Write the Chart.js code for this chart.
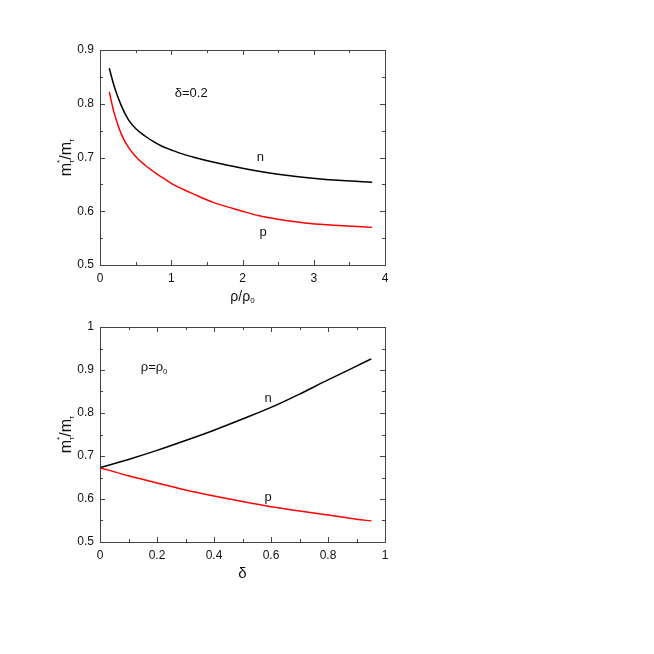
<!DOCTYPE html>
<html>
<head>
<meta charset="utf-8">
<script src="https://cdn.jsdelivr.net/npm/chart.js@4/dist/chart.umd.min.js"></script>
<style>
  html, body { margin: 0; padding: 0; background: #fff; }
  #wrap { position: relative; width: 654px; height: 654px; }
  canvas { position: absolute; left: 0; }
  #c1 { top: 0; }
  #c2 { top: 277px; }
</style>
</head>
<body>
<div id="wrap">
  <canvas id="c1" width="654" height="315"></canvas>
  <canvas id="c2" width="654" height="315"></canvas>
</div>
<script>
// panel atas: m*/m vs rho/rho0, delta = 0.2
const rhoX = [0.13, 0.2, 0.3, 0.4, 0.5, 0.63, 0.77, 0.87, 1.0, 1.1, 1.33, 1.6, 2.0, 2.25, 2.5, 2.95, 3.4, 3.82];
const rhoN = [0.866, 0.832, 0.796, 0.770, 0.754, 0.740, 0.728, 0.721, 0.714, 0.709, 0.700, 0.691, 0.680, 0.674, 0.669, 0.662, 0.657, 0.654];
const rhoP = [0.822, 0.782, 0.743, 0.719, 0.702, 0.686, 0.672, 0.663, 0.652, 0.645, 0.631, 0.616, 0.600, 0.591, 0.585, 0.577, 0.573, 0.570];

// panel bawah: m*/m vs delta, rho = rho0
const deltaX = [0, 0.1, 0.2, 0.3, 0.4, 0.5, 0.6, 0.7, 0.8, 0.9, 0.952];
const deltaN = [0.673, 0.692, 0.713, 0.736, 0.760, 0.786, 0.813, 0.844, 0.877, 0.909, 0.926];
const deltaP = [0.673, 0.654, 0.637, 0.621, 0.607, 0.594, 0.582, 0.572, 0.563, 0.553, 0.549];

const FONT = "'Liberation Sans', Arial, sans-serif";

function pts(xs, ys) {
    return xs.map((x, i) => ({ x: x, y: ys[i] }));
}

// teks dengan subskrip kecil di belakangnya
function teksSub(ctx, main, sub, cx, cy, size) {
    ctx.font = size + 'px ' + FONT;
    const w1 = ctx.measureText(main).width;
    ctx.font = '8px ' + FONT;
    const w2 = ctx.measureText(sub).width;
    const x0 = cx - (w1 + w2) / 2;
    ctx.textAlign = 'left';
    ctx.font = size + 'px ' + FONT;
    ctx.fillText(main, x0, cy);
    ctx.font = '8px ' + FONT;
    ctx.fillText(sub, x0 + w1, cy + 4);
    ctx.textAlign = 'center';
}

// bingkai, tick ke dalam, judul sumbu dan label
const framePlugin = {
    id: 'frame',
    afterDraw(chart, args, opts) {
        const ctx = chart.ctx;
        const a = chart.chartArea;
        const xs = chart.scales.x, ys = chart.scales.y;
        ctx.save();
        ctx.strokeStyle = '#444';
        ctx.lineWidth = 1;
        ctx.strokeRect(a.left + 0.5, a.top + 0.5, a.right - a.left, a.bottom - a.top);

        ctx.beginPath();
        const xStep = opts.xStep / 2;
        const nx = Math.round((xs.max - xs.min) / xStep);
        for (let i = 1; i < nx; i++) {
            const px = Math.round(xs.getPixelForValue(xs.min + i * xStep)) + 0.5;
            const len = i % 2 === 0 ? 5 : 3;
            ctx.moveTo(px, a.bottom); ctx.lineTo(px, a.bottom - len);
            ctx.moveTo(px, a.top); ctx.lineTo(px, a.top + len);
        }
        const yStep = opts.yStep / 2;
        const ny = Math.round((ys.max - ys.min) / yStep);
        for (let i = 1; i < ny; i++) {
            const py = Math.round(ys.getPixelForValue(ys.min + i * yStep)) + 0.5;
            const len = i % 2 === 0 ? 5 : 3;
            ctx.moveTo(a.left, py); ctx.lineTo(a.left + len, py);
            ctx.moveTo(a.right, py); ctx.lineTo(a.right - len, py);
        }
        ctx.stroke();

        ctx.fillStyle = '#111';
        ctx.textAlign = 'center';
        ctx.textBaseline = 'middle';

        // judul sumbu y: m*_tau / m_tau
        const cy = (a.top + a.bottom) / 2;
        ctx.save();
        ctx.translate(a.left - 33, cy);
        ctx.rotate(-Math.PI / 2);
        ctx.textAlign = 'left';
        const big = '16px ' + FONT, small = '8px ' + FONT;
        const parts = [
            ['m', big, 0], ['*', small, -7], ['τ', small, 5], ['/m', big, 0], ['τ', small, 5]
        ];
        let w = 0;
        parts.forEach(p => { if (p[0] !== '*') { ctx.font = p[1]; w += ctx.measureText(p[0]).width; } });
        let x = -w / 2;
        parts.forEach(p => {
            ctx.font = p[1];
            ctx.fillText(p[0], x, p[2]);
            if (p[0] !== '*') x += ctx.measureText(p[0]).width;
        });
        ctx.restore();

        // judul sumbu x
        const cx = (a.left + a.right) / 2;
        if (opts.xTitleSub) {
            teksSub(ctx, opts.xTitle, opts.xTitleSub, cx, a.bottom + 32, 14);
        } else {
            ctx.font = '15px ' + FONT;
            ctx.fillText(opts.xTitle, cx, a.bottom + 32);
        }

        // label di dalam plot
        ctx.textAlign = 'center';
        (opts.notes || []).forEach(n => {
            const px = xs.getPixelForValue(n.x), py = ys.getPixelForValue(n.y);
            if (n.sub) {
                teksSub(ctx, n.text, n.sub, px, py, 13);
            } else {
                ctx.font = '13px ' + FONT;
                ctx.fillText(n.text, px, py);
            }
        });
        ctx.restore();
    }
};

function buatPanel(id, xs, nVals, pVals, xMin, xMax, xStep, yMin, yMax, xFmt, frameOpts) {
    const ctx = document.getElementById(id).getContext('2d');
    return new Chart(ctx, {
        type: 'line',
        data: {
            datasets: [
                { label: 'n', data: pts(xs, nVals), borderColor: '#000', borderWidth: 1.5, pointRadius: 0, cubicInterpolationMode: 'monotone', fill: false },
                { label: 'p', data: pts(xs, pVals), borderColor: '#ff0000', borderWidth: 1.5, pointRadius: 0, cubicInterpolationMode: 'monotone', fill: false }
            ]
        },
        options: {
            responsive: false,
            animation: false,
            devicePixelRatio: 1,
            layout: { padding: { left: 40, right: 269, top: 50, bottom: 0 } },
            plugins: {
                legend: { display: false },
                tooltip: { enabled: false },
                frame: Object.assign({ xStep: xStep, yStep: 0.1 }, frameOpts)
            },
            scales: {
                x: {
                    type: 'linear', min: xMin, max: xMax,
                    grid: { display: false, drawTicks: false },
                    border: { display: false },
                    afterFit: s => { s.height = 50; },
                    ticks: {
                        stepSize: xStep, padding: 6, color: '#111', maxRotation: 0,
                        font: { family: FONT, size: 12 },
                        callback: xFmt
                    }
                },
                y: {
                    type: 'linear', min: yMin, max: yMax,
                    grid: { display: false, drawTicks: false },
                    border: { display: false },
                    afterFit: s => { s.width = 60; },
                    ticks: {
                        stepSize: 0.1, padding: 6, color: '#111',
                        font: { family: FONT, size: 12 },
                        callback: v => (Math.abs(v - 1) < 1e-9 ? '1' : v.toFixed(1))
                    }
                }
            }
        },
        plugins: [framePlugin]
    });
}

buatPanel('c1', rhoX, rhoN, rhoP, 0, 4, 1, 0.5, 0.9,
    v => String(Math.round(v)),
    {
        xTitle: 'ρ/ρ', xTitleSub: '0',
        notes: [
            { x: 1.28, y: 0.82, text: 'δ=0.2' },
            { x: 2.25, y: 0.700, text: 'n' },
            { x: 2.29, y: 0.561, text: 'p' }
        ]
    });

buatPanel('c2', deltaX, deltaN, deltaP, 0, 1, 0.2, 0.5, 1,
    v => (Math.abs(v) < 1e-9 ? '0' : Math.abs(v - 1) < 1e-9 ? '1' : v.toFixed(1)),
    {
        xTitle: 'δ',
        notes: [
            { x: 0.19, y: 0.906, text: 'ρ=ρ', sub: '0' },
            { x: 0.59, y: 0.834, text: 'n' },
            { x: 0.59, y: 0.603, text: 'p' }
        ]
    });
</script>
</body>
</html>
